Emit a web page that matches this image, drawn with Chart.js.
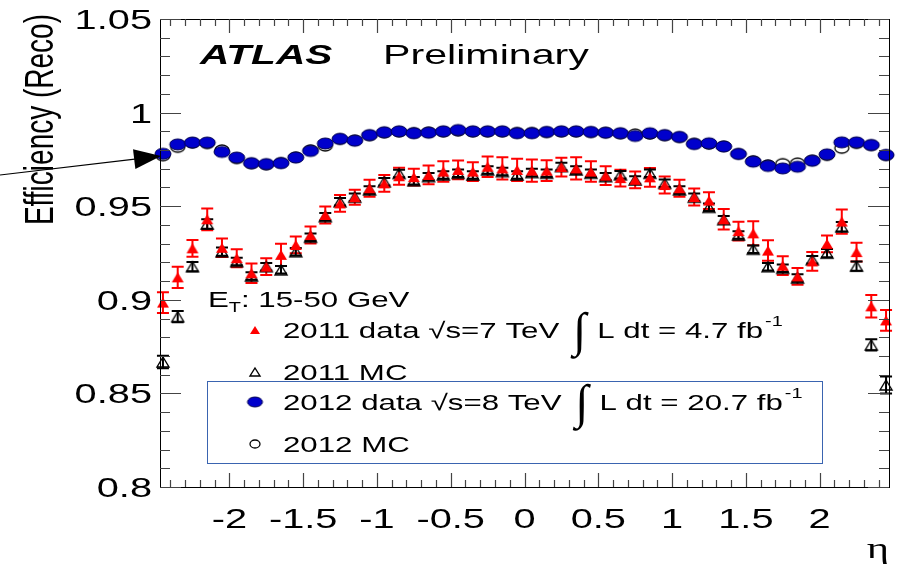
<!DOCTYPE html>
<html>
<head>
<meta charset="utf-8">
<script src="https://cdn.jsdelivr.net/npm/chart.js@4.4.1/dist/chart.umd.min.js"></script>
<style>
  html,body{margin:0;padding:0;background:#fff}
  #grafico{display:block}
</style>
</head>
<body>
<canvas id="grafico" width="905" height="565"></canvas>
<script>
// centros de los bins en eta
const eta = [-2.45,-2.35,-2.25,-2.15,-2.05,-1.95,-1.85,-1.75,-1.65,-1.55,-1.45,-1.35,-1.25,-1.15,-1.05,-0.95,-0.85,-0.75,-0.65,-0.55,-0.45,-0.35,-0.25,-0.15,-0.05,
             0.05,0.15,0.25,0.35,0.45,0.55,0.65,0.75,0.85,0.95,1.05,1.15,1.25,1.35,1.45,1.55,1.65,1.75,1.85,1.95,2.05,2.15,2.25,2.35,2.45]

// 2011 data (triangulo rojo)
const data2011 = [0.8985,0.912,0.9275,0.943,0.9278,0.9222,0.9142,0.9177,0.924,0.9293,0.9346,0.9453,0.9515,0.9548,0.9596,0.9622,0.966,0.9655,0.9667,0.9685,0.9694,0.9685,0.9711,0.9702,0.9694,
                  0.969,0.969,0.9709,0.9702,0.9685,0.9663,0.965,0.9641,0.9654,0.9613,0.9596,0.9549,0.953,0.943,0.9367,0.9355,0.9263,0.9182,0.9125,0.9205,0.9299,0.9418,0.9255,0.8965,0.889]
const err2011 = [0.0055,0.0057,0.0045,0.0058,0.005,0.0048,0.0052,0.0045,0.006,0.0045,0.0045,0.0045,0.0045,0.004,0.0045,0.0045,0.0045,0.0045,0.005,0.0055,0.005,0.005,0.0055,0.006,0.006,
                 0.006,0.0055,0.005,0.006,0.0055,0.005,0.0045,0.0045,0.005,0.0045,0.0045,0.0045,0.0045,0.0055,0.005,0.0064,0.0055,0.005,0.0045,0.005,0.0045,0.0065,0.005,0.006,0.0055]

// 2011 MC (triangulo abierto)
const mc2011 = [0.8668,0.891,0.9177,0.9405,0.9257,0.9204,0.9127,0.9177,0.916,0.9257,0.9334,0.9444,0.9524,0.9548,0.9587,0.963,0.9675,0.9636,0.9658,0.9667,0.9676,0.9667,0.9694,0.9685,0.9667,
                0.968,0.9676,0.9712,0.9694,0.9676,0.9658,0.9668,0.964,0.9676,0.9622,0.9587,0.9548,0.9494,0.9428,0.9346,0.927,0.9177,0.9168,0.9116,0.9214,0.9249,0.939,0.918,0.8759,0.8545]
const errMc2011 = [0.0033,0.003,0.0025,0.0025,0.0022,0.002,0.002,0.002,0.002,0.002,0.002,0.002,0.002,0.002,0.002,0.002,0.002,0.002,0.002,0.002,0.002,0.002,0.002,0.002,0.002,
                   0.002,0.002,0.002,0.002,0.002,0.002,0.002,0.002,0.002,0.002,0.002,0.002,0.002,0.002,0.002,0.002,0.002,0.002,0.002,0.002,0.0022,0.0025,0.0025,0.003,0.0045]

// 2012 data (circulo azul)
const data2012 = [0.978,0.983,0.984,0.984,0.979,0.976,0.973,0.9725,0.973,0.976,0.9795,0.9835,0.986,0.985,0.988,0.9895,0.990,0.989,0.9893,0.990,0.9907,0.990,0.990,0.990,0.989,
                  0.989,0.9897,0.990,0.990,0.9897,0.9893,0.989,0.9875,0.989,0.988,0.987,0.9832,0.9836,0.9819,0.9779,0.9738,0.9715,0.9702,0.9711,0.9743,0.9777,0.9841,0.9841,0.9827,0.9774]
const err2012 = [0.0012,0.001,0.001,0.001,0.001,0.001,0.001,0.001,0.001,0.001,0.001,0.001,0.001,0.001,0.001,0.001,0.001,0.001,0.001,0.001,0.001,0.001,0.001,0.001,0.001,
                 0.001,0.001,0.001,0.001,0.001,0.001,0.001,0.0012,0.001,0.001,0.001,0.001,0.001,0.001,0.001,0.001,0.001,0.001,0.001,0.001,0.001,0.001,0.001,0.001,0.0012]

// 2012 MC (circulo abierto)
const mc2012 = [0.977,0.9815,0.9838,0.9835,0.980,0.9755,0.9728,0.9722,0.9732,0.9762,0.980,0.9822,0.9858,0.9852,0.9878,0.9893,0.9898,0.9892,0.9895,0.9898,0.9903,0.9898,0.9898,0.9898,0.9893,
                0.9893,0.9895,0.9898,0.9898,0.9895,0.9893,0.9888,0.9885,0.9886,0.9878,0.9868,0.9835,0.9832,0.982,0.978,0.9742,0.972,0.9727,0.973,0.9745,0.9772,0.981,0.9836,0.9825,0.9772]

const xTicks = [-2,-1.5,-1,-0.5,0,0.5,1,1.5,2]
const xTickLabels = ['-2','-1.5','-1','-0.5','0','0.5','1','1.5','2']
const yTicks = [0.8,0.85,0.9,0.95,1,1.05]
const yTickLabels = ['0.8','0.85','0.9','0.95','1','1.05']

const SX = 1.42   // el original esta estirado en horizontal
const FUENTE = '"Liberation Sans", Arial, sans-serif'

function puntos(valores){
    return eta.map((e,k)=>({x:e, y:valores[k]}))
}

// marcadores tipo ROOT (ensanchados)
function marcador(tipo, w, h){
    let c=document.createElement('canvas')
    c.width=w+4; c.height=h+4
    let g=c.getContext('2d')
    g.translate(2,2)
    if(tipo=='triLleno' || tipo=='triVacio'){
        g.beginPath()
        g.moveTo(w/2,0); g.lineTo(w,h); g.lineTo(0,h); g.closePath()
        if(tipo=='triLleno'){ g.fillStyle='#ff0000'; g.fill() }
        else { g.strokeStyle='#000'; g.lineWidth=1.4; g.stroke() }
    } else {
        g.beginPath()
        g.ellipse(w/2,h/2,w/2,h/2,0,0,Math.PI*2)
        if(tipo=='circLleno'){ g.fillStyle='#0000cc'; g.fill(); g.strokeStyle='#000050'; g.lineWidth=1; g.stroke() }
        else { g.strokeStyle='#000'; g.lineWidth=1.3; g.stroke() }
    }
    return c
}

function texto(ctx, s, x, y, font, align, sx){
    if(sx===undefined) sx=SX
    ctx.save()
    ctx.font=font
    ctx.translate(x,y)
    ctx.scale(sx,1)
    let w=ctx.measureText(s).width
    let dx = align=='right' ? -w : (align=='center' ? -w/2 : 0)
    ctx.textAlign='left'
    ctx.textBaseline='alphabetic'
    ctx.fillText(s,dx,0)
    ctx.restore()
    return w*sx
}

const barrasError = {
    id:'barrasError',
    beforeDatasetsDraw(chart){
        const ctx=chart.ctx, xs=chart.scales.x, ys=chart.scales.y
        chart.data.datasets.forEach(ds=>{
            if(!ds.errores) return
            ctx.save()
            ctx.strokeStyle=ds.colorError
            ctx.lineWidth=ds.anchoError
            ds.data.forEach((p,k)=>{
                let px=xs.getPixelForValue(p.x)
                let y1=ys.getPixelForValue(p.y+ds.errores[k])
                let y2=ys.getPixelForValue(p.y-ds.errores[k])
                let c=ds.capa
                ctx.beginPath()
                ctx.moveTo(px,y1); ctx.lineTo(px,y2)
                ctx.moveTo(px-c,y1); ctx.lineTo(px+c,y1)
                ctx.moveTo(px-c,y2); ctx.lineTo(px+c,y2)
                ctx.stroke()
            })
            ctx.restore()
        })
    }
}

const decoracion = {
    id:'decoracion',
    afterDraw(chart){
        const ctx=chart.ctx, xs=chart.scales.x, ys=chart.scales.y
        const a=chart.chartArea
        ctx.save()
        // marco
        ctx.strokeStyle='#000'
        ctx.lineWidth=1
        ctx.strokeRect(a.left+0.5,a.top+0.5,a.right-a.left,a.bottom-a.top)
        // ticks
        ctx.strokeStyle='#444'
        ctx.lineWidth=1.2
        ctx.beginPath()
        for(let v=-24; v<=24; v++){
            let px=Math.round(xs.getPixelForValue(v/10))+0.5
            let largo = (v%5==0) ? 14 : 7
            ctx.moveTo(px,a.bottom); ctx.lineTo(px,a.bottom-largo)
            ctx.moveTo(px,a.top); ctx.lineTo(px,a.top+largo)
        }
        for(let v=80; v<=105; v++){
            let py=Math.round(ys.getPixelForValue(v/100))+0.5
            let largo = (v%5==0) ? 21 : 10
            ctx.moveTo(a.left,py); ctx.lineTo(a.left+largo,py)
            ctx.moveTo(a.right,py); ctx.lineTo(a.right-largo,py)
        }
        ctx.stroke()
        ctx.fillStyle='#000'
        // etiquetas de los ejes
        xTicks.forEach((v,k)=>{
            texto(ctx,xTickLabels[k],xs.getPixelForValue(v),528,'28px '+FUENTE,'center')
        })
        yTicks.forEach((v,k)=>{
            texto(ctx,yTickLabels[k],152,ys.getPixelForValue(v)+10,'28px '+FUENTE,'right')
        })
        // titulo eje y (rotado)
        ctx.save()
        ctx.font='28px '+FUENTE
        ctx.translate(53,14)
        ctx.scale(SX,1)
        ctx.rotate(-Math.PI/2)
        ctx.textAlign='right'
        ctx.fillText('Efficiency (Reco)',0,0)
        ctx.restore()
        // titulo eje x
        texto(ctx,'\u03b7',878,558,'30px "Liberation Serif", serif','center')
        // ATLAS Preliminary
        texto(ctx,'ATLAS',200,64,'italic bold 28px '+FUENTE,'left',1.45)
        texto(ctx,'Preliminary',383,64,'28px '+FUENTE,'left',1.47)
        // flecha
        let x0=0, y0=175, x1=161, y1=156
        let ang=Math.atan2(y1-y0,x1-x0)
        ctx.strokeStyle='#000'; ctx.lineWidth=1.2
        ctx.beginPath(); ctx.moveTo(x0,y0); ctx.lineTo(x1-20*Math.cos(ang),y1-20*Math.sin(ang)); ctx.stroke()
        ctx.beginPath()
        ctx.moveTo(x1,y1)
        ctx.lineTo(x1-27*Math.cos(ang)+10*Math.sin(ang), y1-27*Math.sin(ang)-10*Math.cos(ang))
        ctx.lineTo(x1-27*Math.cos(ang)-10*Math.sin(ang), y1-27*Math.sin(ang)+10*Math.cos(ang))
        ctx.closePath(); ctx.fill()

        // leyenda
        ctx.strokeStyle='#3a64b0'; ctx.lineWidth=1
        ctx.strokeRect(207.5,381.5,615,82)
        let f='22px '+FUENTE
        let x=texto(ctx,'E',208,307,f,'left')
        x+=208
        x+=texto(ctx,'T',x,312,'14px '+FUENTE,'left')
        texto(ctx,': 15-50 GeV',x,307,f,'left')

        const filas=[
            {y:330, marca:'triLleno', t1:'2011 data \u221as=7 TeV', t2:'L dt = 4.7 fb'},
            {y:372, marca:'triVacio', t1:'2011 MC'},
            {y:402, marca:'circLleno', t1:'2012 data \u221as=8 TeV', t2:'L dt = 20.7 fb'},
            {y:444, marca:'circVacio', t1:'2012 MC'}
        ]
        filas.forEach(r=>{
            let m
            if(r.marca=='circLleno') m=marcador(r.marca,15,10)
            else m=marcador(r.marca,10,8)
            ctx.drawImage(m,255-m.width/2,r.y-m.height/2)
            let xx=283
            xx+=texto(ctx,r.t1,xx,r.y+8,f,'left')
            if(r.t2){
                xx+=14
                texto(ctx,'\u222b',xx,r.y+16,'48px "Liberation Serif", serif','left',1)
                xx+=24
                xx+=texto(ctx,r.t2,xx,r.y+8,f,'left')
                texto(ctx,'-1',xx+2,r.y-4,'14px '+FUENTE,'left')
            }
        })
        ctx.restore()
    }
}

const config = {
    type:'scatter',
    data:{
        datasets:[
            {
                label:'2012 data',
                data:puntos(data2012),
                pointStyle:marcador('circLleno',16,11),
                errores:err2012, colorError:'#0000cc', anchoError:2, capa:7,
                order:1, clip:false
            },
            {
                label:'2012 MC',
                data:puntos(mc2012),
                pointStyle:marcador('circVacio',14,10),
                order:2, clip:false
            },
            {
                label:'2011 data',
                data:puntos(data2011),
                pointStyle:marcador('triLleno',12,10),
                errores:err2011, colorError:'#ff0000', anchoError:2, capa:6,
                order:3, clip:false
            },
            {
                label:'2011 MC',
                data:puntos(mc2011),
                pointStyle:marcador('triVacio',12,10),
                errores:errMc2011, colorError:'#000', anchoError:2, capa:6,
                order:4, clip:false
            }
        ]
    },
    options:{
        responsive:false,
        animation:false,
        devicePixelRatio:1,
        layout:{padding:{left:160,right:16,top:19,bottom:78}},
        plugins:{legend:{display:false},tooltip:{enabled:false}},
        events:[],
        scales:{
            x:{type:'linear',min:-2.47,max:2.47,display:false},
            y:{type:'linear',min:0.8,max:1.05,display:false}
        }
    },
    plugins:[barrasError,decoracion]
}

const myChart = new Chart(document.getElementById('grafico'),config)
</script>
</body>
</html>
